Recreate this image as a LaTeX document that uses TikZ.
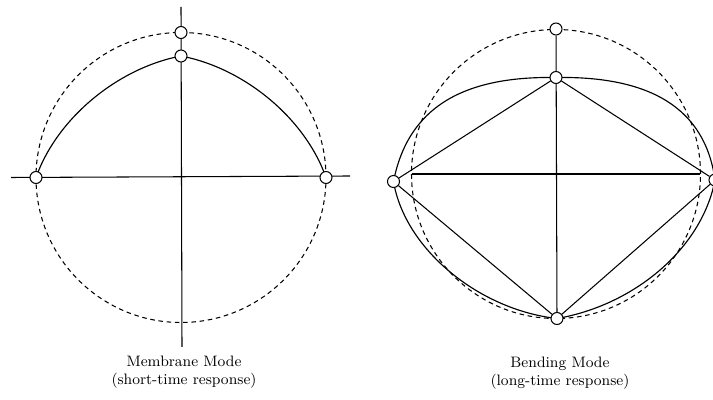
\documentclass[tikz,border=0pt]{standalone}
\usepackage{tikz}
\usetikzlibrary{
  positioning,
  backgrounds
}

\begin{document}
\begin{tikzpicture}[
  axisline/.style={draw=black, line width=0.6pt},
  modeline/.style={draw=black, line width=0.65pt},
  refcircle/.style={draw=black, line width=0.6pt, dash pattern=on 2.6pt off 2.1pt},
  joint/.style={circle, draw=black, fill=white, line width=0.6pt, minimum size=0.24cm, inner sep=0pt},
  caption/.style={font=\fontsize{8.6}{10.3}\selectfont, align=center}
]
\useasboundingbox (0,0) rectangle (14.26,8);

% ============ PANEL 1 : MEMBRANE MODE ============
\begin{scope}[shift={(3.62,4.45)}]
  \node[joint] (mtop)   at (0,2.90)  {};
  \node[joint] (mpeak)  at (0,2.43)  {};
  \node[joint] (mleft)  at (-2.90,0) {};
  \node[joint] (mright) at (2.90,0)  {};
  \coordinate (mnorth) at (0,3.41);
  \coordinate (msouth) at (0.02,-3.39);
  \coordinate (mwest)  at (-3.40,0);
  \coordinate (meast)  at (3.38,0.03);
  \begin{scope}[on background layer]
    \draw[refcircle] (0,0) circle (2.90);
    \draw[axisline] (mwest) -- (meast);
    \draw[axisline] (mnorth) -- (msouth);
    \draw[modeline] (mleft.center) .. controls (-2.48,1.19) and (-1.26,2.19) .. (mpeak.center)
      .. controls (1.26,2.19) and (2.48,1.19) .. (mright.center);
  \end{scope}
  \node[caption] (mcap) at (0.06,-3.90) {Membrane Mode\\(short-time response)};
\end{scope}

% ============ PANEL 2 : BENDING MODE ============
\begin{scope}[shift={(11.12,4.52)}]
  \node[joint] (btop)    at (0,2.90)      {};
  \node[joint] (bpeak)   at (0,1.93)      {};
  \node[joint] (bleft)   at (-3.25,-0.15) {};
  \node[joint] (bright)  at (3.18,-0.12)  {};
  \node[joint] (bbottom) at (0.02,-2.89)  {};
  \coordinate (bwest) at (-2.89,0);
  \coordinate (beast) at (2.88,0);
  \begin{scope}[on background layer]
    \draw[refcircle] (0,0) circle (2.89);
    \draw[axisline] (bwest) -- (beast);
    \draw[axisline] (btop) -- (bbottom);
    \draw[axisline] (bleft) -- (bpeak) -- (bright) -- (bbottom) -- (bleft);
    \draw[modeline] (bleft.center) .. controls (-2.96,1.32) and (-1.88,1.96) .. (bpeak.center)
      .. controls (1.88,1.96) and (2.98,1.32) .. (bright.center)
      .. controls (2.92,-1.48) and (1.58,-2.62) .. (bbottom.center)
      .. controls (-1.52,-2.72) and (-3.02,-1.52) .. (bleft.center);
  \end{scope}
  \node[caption] (bcap) at (0.08,-3.98) {Bending Mode\\(long-time response)};
\end{scope}

\end{tikzpicture}
\end{document}
